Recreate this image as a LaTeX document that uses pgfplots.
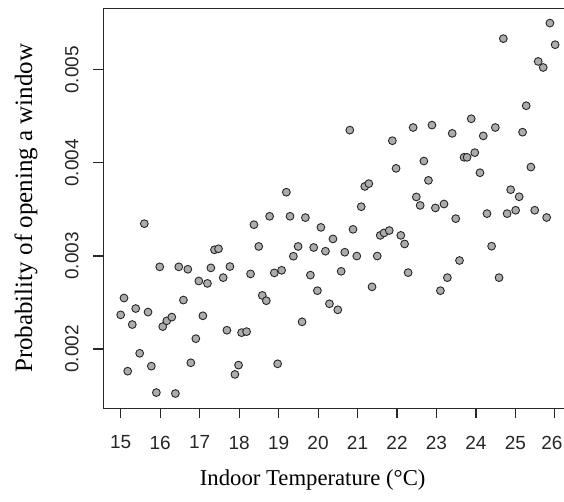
\documentclass[border=0pt]{standalone}
\usepackage{pgfplots}
\pgfplotsset{compat=1.18}
\usepackage{fontspec}
\setmainfont{Liberation Serif}
\newfontfamily\arial{Liberation Sans}
\definecolor{ptfill}{RGB}{172,172,172}
\definecolor{axline}{RGB}{40,40,40}
\begin{document}
\begin{tikzpicture}
\begin{axis}[
  at={(103.3pt,92.7pt)}, anchor=south west,
  scale only axis, width=469pt, height=400pt,
  xmin=14.56, xmax=26.44, ymin=0.001363, ymax=0.005661,
  xtick={15,16,17,18,19,20,21,22,23,24,25},
  extra x ticks={26},
  extra x tick style={xticklabel style={xshift=-3pt}},
  ytick={0.002,0.003,0.004,0.005},
  yticklabels={0.002,0.003,0.004,0.005},
  xtick pos=bottom, ytick pos=left,
  scaled y ticks=false,
  tick align=outside, major tick length=10pt,
  axis line style={axline, line width=1.1pt},
  every tick/.style={axline, line width=1.1pt},
  /pgf/number format/assume math mode=true,
  xticklabel style={font=\arial\fontsize{19}{22}\selectfont, text=black!85},
  yticklabel style={font=\arial\fontsize{19}{22}\selectfont, text=black!85, rotate=90, anchor=base},
  yticklabel shift=15pt,
  xticklabel shift=14pt,
  xlabel={Indoor Temperature (°C)},
  ylabel={Probability of opening a window},
  xlabel style={font=\fontsize{22.7}{26}\selectfont, at={(axis description cs:0.4465,-0.192)}, anchor=base},
  ylabel style={font=\fontsize{25}{28}\selectfont, at={(axis description cs:-0.152,0.5)}, anchor=base, rotate=0},
  clip=false,
]
\addplot[only marks, mark=*, mark size=3.9pt, mark options={fill=ptfill, draw=black!85, line width=0.9pt}] coordinates {
(15.000,0.002367) (15.084,0.002548) (15.178,0.001762) (15.294,0.002263) (15.381,0.002435)
(15.482,0.001954) (15.599,0.003347) (15.693,0.002397) (15.777,0.001816) (15.904,0.001532)
(15.990,0.002883) (16.066,0.002241) (16.168,0.002303) (16.295,0.002343) (16.386,0.001522)
(16.472,0.002883) (16.589,0.002526) (16.701,0.002857) (16.777,0.001852) (16.904,0.002111)
(16.980,0.002731) (17.082,0.002357) (17.198,0.002705) (17.285,0.002872) (17.376,0.003066)
(17.478,0.003077) (17.597,0.002767) (17.691,0.002202) (17.767,0.002886) (17.894,0.001727)
(17.986,0.001827) (18.062,0.002176) (18.189,0.002187) (18.290,0.002807) (18.376,0.003336)
(18.498,0.003102) (18.587,0.002576) (18.689,0.002519) (18.773,0.003426) (18.892,0.002818)
(18.976,0.001841) (19.077,0.002846) (19.197,0.003685) (19.290,0.003426) (19.374,0.002997)
(19.494,0.003102) (19.595,0.002292) (19.679,0.003412) (19.806,0.002794) (19.890,0.003091)
(19.983,0.002627) (20.072,0.003307) (20.187,0.003051) (20.288,0.002486) (20.377,0.003183)
(20.499,0.002421) (20.585,0.002835) (20.677,0.003040) (20.804,0.004352) (20.885,0.003286)
(20.981,0.002999) (21.093,0.003529) (21.184,0.003747) (21.286,0.003777) (21.367,0.002668)
(21.499,0.002999) (21.575,0.003221) (21.672,0.003248) (21.804,0.003273) (21.882,0.004238)
(21.976,0.003941) (22.096,0.003221) (22.192,0.003129) (22.281,0.002821) (22.408,0.004380)
(22.489,0.003634) (22.586,0.003543) (22.680,0.004020) (22.796,0.003812) (22.885,0.004406)
(22.972,0.003516) (23.099,0.002627) (23.190,0.003558) (23.276,0.002767) (23.398,0.004317)
(23.487,0.003401) (23.583,0.002951) (23.698,0.004060) (23.774,0.004060) (23.880,0.004474)
(23.969,0.004110) (24.101,0.003894) (24.185,0.004290) (24.279,0.003455) (24.396,0.003105)
(24.490,0.004380) (24.584,0.002767) (24.693,0.005335) (24.789,0.003455) (24.878,0.003712)
(25.005,0.003491) (25.094,0.003636) (25.180,0.004330) (25.272,0.004614) (25.391,0.003955)
(25.488,0.003491) (25.576,0.005090) (25.703,0.005025) (25.790,0.003413) (25.873,0.005502)
(26.005,0.005270)
};
\end{axis}
\pgfresetboundingbox
\path[use as bounding box] (0pt,0pt) rectangle (564pt,501pt);
\end{tikzpicture}
\end{document}
